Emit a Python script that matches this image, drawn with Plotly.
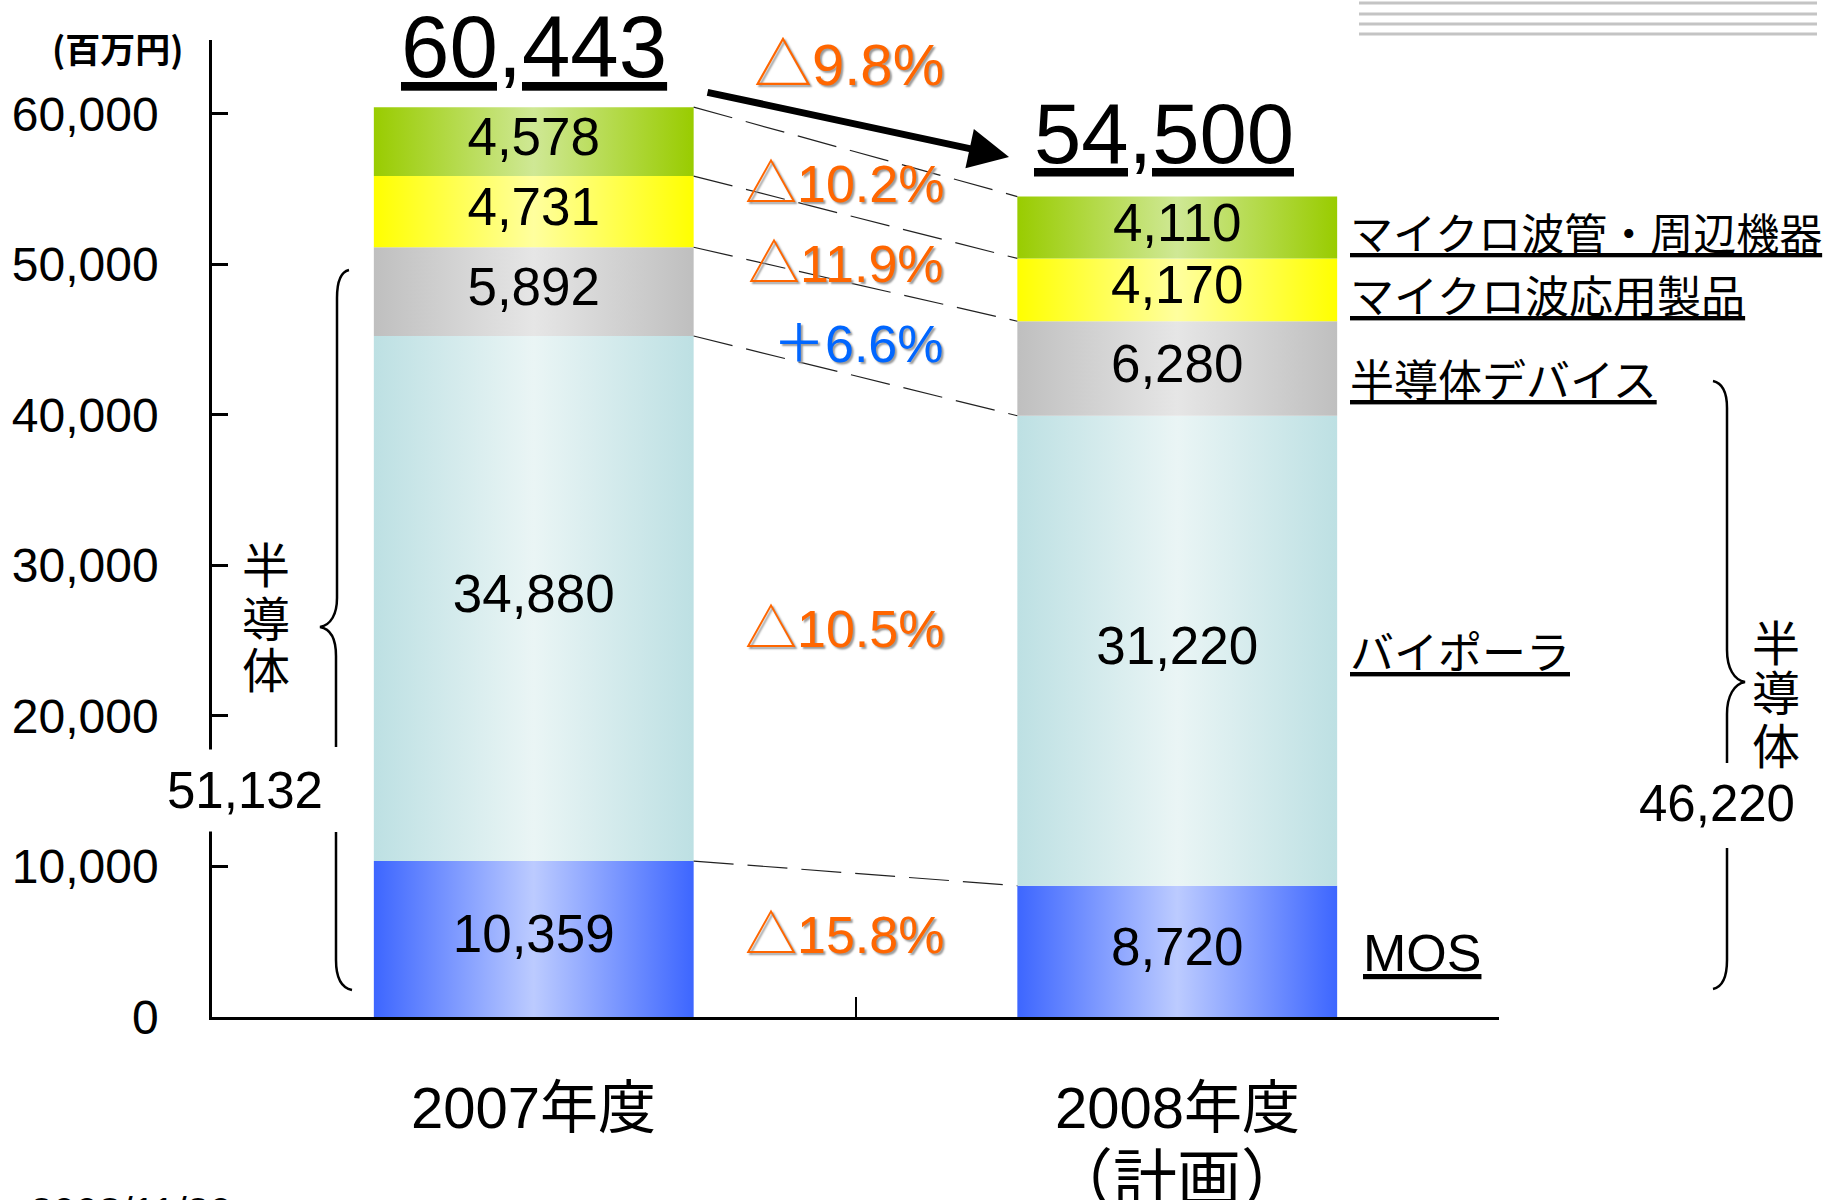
import plotly.graph_objects as go

# ---------------- data ----------------
categories = ["2007年度", "2008年度"]
category_notes = ["", "（計画）"]
segment_names = ["MOS", "バイポーラ", "半導体デバイス", "マイクロ波応用製品", "マイクロ波管・周辺機器"]
mos = [10359, 8720]
bipolar = [34880, 31220]
semi_devices = [5892, 6280]
mw_products = [4731, 4170]
mw_tubes = [4578, 4110]
totals = [60443, 54500]
semi_totals = [51132, 46220]
change_labels = ["△15.8%", "△10.5%", "＋6.6%", "△11.9%", "△10.2%"]
total_change_label = "△9.8%"
y_tickvals = [0, 10000, 20000, 30000, 40000, 50000, 60000]
unit_label = "(百万円)"
semi_group_label = "半導体"
date_label = "2008/11/20"
page_label = "9"

series = [mos, bipolar, semi_devices, mw_products, mw_tubes]

# ---------------- styles ----------------
W, H = 1827, 1200
L_PX, R_PX, T_PX, B_PX = 212, 1499, 40, 1017
XR = (-0.5, 1.5)
YR = (0, 64900)
BAR_W = 0.497

def xd(px):
    return XR[0] + (px - L_PX) / (R_PX - L_PX) * (XR[1] - XR[0])

def yd(py):
    return YR[0] + (B_PX - py) / (B_PX - T_PX) * (YR[1] - YR[0])

def xp(px):
    return (px - L_PX) / (R_PX - L_PX)

def yp(py):
    return (B_PX - py) / (B_PX - T_PX)

seg_colors = [
    ("#3D66FF", "#BCCBFF"),
    ("#BDE0E3", "#EAF5F5"),
    ("#BFBFBF", "#E6E6E6"),
    ("#FFFF00", "#FFFF9E"),
    ("#99CC00", "#CFE895"),
]
change_colors = ["#FF6600", "#FF6600", "#0066FF", "#FF6600", "#FF6600"]
change_yshift = [10, -4, -14, -13, 1]
right_label_yshift = [-2, 1, -10, -4, -3]

ARIAL = "Liberation Sans, Arial, Noto Sans CJK JP, sans-serif"
JP = "Noto Sans CJK JP, sans-serif"
SHADOW = "2px 2px 2px #9A9A9A"

fig = go.Figure()

# cumulative stacks
cum = [[0, 0]]
for s in series:
    cum.append([cum[-1][i] + s[i] for i in range(2)])

# bars (gradient-filled rectangles on data axes)
for k, s in enumerate(series):
    edge, mid = seg_colors[k]
    for i in range(len(categories)):
        x0, x1 = i - BAR_W / 2, i + BAR_W / 2
        y0, y1 = cum[k][i], cum[k + 1][i]
        fig.add_trace(go.Scatter(
            x=[x0, x1, x1, x0, x0], y=[y0, y0, y1, y1, y0],
            mode="lines", line=dict(width=0), fill="toself",
            fillgradient=dict(type="horizontal",
                              colorscale=[[0, edge], [0.5, mid], [1, edge]]),
            hoverinfo="skip", showlegend=False, name=segment_names[k]))

# value labels in bars
for k, s in enumerate(series):
    fig.add_trace(go.Scatter(
        x=list(range(len(categories))),
        y=[(cum[k][i] + cum[k + 1][i]) / 2 for i in range(len(categories))],
        mode="text", text=[f"{v:,}" for v in s],
        textfont=dict(family=ARIAL, size=53, color="black"),
        hoverinfo="skip", showlegend=False))

# dashed connectors
for k in range(1, len(cum)):
    fig.add_trace(go.Scatter(
        x=[BAR_W / 2, 1 - BAR_W / 2], y=[cum[k][0], cum[k][1]],
        mode="lines", line=dict(color="#222222", width=1.2, dash="40px,14px"),
        hoverinfo="skip", showlegend=False))

ann = []
# change labels
for k, lab in enumerate(change_labels):
    yv = (cum[k][0] + cum[k + 1][0] + cum[k][1] + cum[k + 1][1]) / 4
    ann.append(dict(x=xd(946), y=yv, xref="x", yref="y", xanchor="right", yanchor="middle",
                    yshift=change_yshift[k], text=lab, showarrow=False,
                    font=dict(family=ARIAL, size=52, color=change_colors[k], shadow=SHADOW)))
ann.append(dict(x=xd(946), y=yd(64), xref="x", yref="y", xanchor="right", yanchor="middle",
                text=total_change_label, showarrow=False,
                font=dict(family=ARIAL, size=58, color="#FF6600", shadow=SHADOW)))

# totals
ann.append(dict(x=0, y=yd(46), xref="x", yref="y", xanchor="center", yanchor="middle",
                text=f"<u>{totals[0]:,}</u>", showarrow=False,
                font=dict(family=ARIAL, size=87, color="black")))
ann.append(dict(x=xd(1164), y=yd(133), xref="x", yref="y", xanchor="center", yanchor="middle",
                text=f"<u>{totals[1]:,}</u>", showarrow=False,
                font=dict(family=ARIAL, size=85, color="black")))

# arrow
ann.append(dict(x=xd(1009), y=yd(157), ax=xd(706), ay=yd(92), xref="x", yref="y",
                axref="x", ayref="y", text="", showarrow=True, arrowhead=2,
                arrowsize=1.15, arrowwidth=7, arrowcolor="black"))

# right segment labels
for k, name in enumerate(segment_names):
    yv = (cum[k][1] + cum[k + 1][1]) / 2
    is_mos = (k == 0)
    size = 52 if is_mos else (43 if len(name) > 10 else 44)
    ann.append(dict(x=xd(1361 if is_mos else 1348), y=yv, xref="x", yref="y",
                    xanchor="left", yanchor="middle", yshift=right_label_yshift[k],
                    text=f"<u>{name}</u>", showarrow=False,
                    font=dict(family=ARIAL if is_mos else JP, size=size, color="black")))

# semiconductor group labels
for ch, py in zip(semi_group_label, [562, 616, 667]):
    ann.append(dict(x=xp(266), y=yp(py), xref="paper", yref="paper", xanchor="center",
                    yanchor="middle", text=ch, showarrow=False,
                    font=dict(family=JP, size=48, color="black")))
for ch, py in zip(semi_group_label, [640, 690, 743]):
    ann.append(dict(x=xp(1776), y=yp(py), xref="paper", yref="paper", xanchor="center",
                    yanchor="middle", text=ch, showarrow=False,
                    font=dict(family=JP, size=48, color="black")))
ann.append(dict(x=xp(245), y=yp(790), xref="paper", yref="paper", xanchor="center",
                yanchor="middle", text=f"{semi_totals[0]:,}", showarrow=False,
                bgcolor="white", borderpad=12,
                font=dict(family=ARIAL, size=51, color="black")))
ann.append(dict(x=xp(1717), y=yp(803), xref="paper", yref="paper", xanchor="center",
                yanchor="middle", text=f"{semi_totals[1]:,}", showarrow=False,
                font=dict(family=ARIAL, size=51, color="black")))

# category labels
for i, cat in enumerate(categories):
    ann.append(dict(x=i, y=yp(1107), xref="x", yref="paper", xanchor="center",
                    yanchor="middle", text=cat, showarrow=False,
                    font=dict(family=ARIAL, size=58, color="black")))
    if category_notes[i]:
        ann.append(dict(x=i, y=yp(1174), xref="x", yref="paper", xanchor="center",
                        yanchor="middle", text=category_notes[i], showarrow=False,
                        font=dict(family=JP, size=64, color="black")))

# unit label, date, page
ann.append(dict(x=xp(117), y=yp(47), xref="paper", yref="paper", xanchor="center",
                yanchor="middle", text=f"<b>{unit_label}</b>", showarrow=False,
                font=dict(family=JP, size=35, color="black")))
ann.append(dict(x=xp(28), y=yp(1187), xref="paper", yref="paper", xanchor="left",
                yanchor="top", text=date_label, showarrow=False,
                font=dict(family=ARIAL, size=41, color="black")))
ann.append(dict(x=xp(1782), y=yp(1189), xref="paper", yref="paper", xanchor="left",
                yanchor="top", text=page_label, showarrow=False,
                font=dict(family=ARIAL, size=41, color="black")))

# braces (paper coordinates so they are not clipped)
def path_from(cmds):
    out = []
    for c in cmds:
        if isinstance(c, str):
            out.append(c)
        else:
            out.append(f"{xp(c[0]):.5f},{yp(c[1]):.5f}")
    return " ".join(out)

left_brace = path_from([
    "M", (349, 270), "C", (340, 272), (337, 282), (337, 298), "L", (337, 598),
    "C", (337, 614), (331, 625), (320, 627), "C", (331, 629), (336, 640), (336, 656),
    "L", (336, 747),
    "M", (336, 832), "L", (336, 960), "C", (336, 978), (342, 988), (352, 990)])
right_brace = path_from([
    "M", (1713, 381), "C", (1722, 383), (1727, 392), (1727, 408), "L", (1727, 650),
    "C", (1727, 668), (1734, 680), (1745, 682), "C", (1734, 684), (1727, 696), (1727, 714),
    "L", (1727, 763),
    "M", (1727, 848), "L", (1727, 960), "C", (1727, 978), (1722, 987), (1713, 989)])

shapes = [
    dict(type="path", path=left_brace, xref="paper", yref="paper",
         line=dict(color="black", width=2.5), layer="above"),
    dict(type="path", path=right_brace, xref="paper", yref="paper",
         line=dict(color="black", width=2.5), layer="above"),
]
for py in [3, 14, 24, 34]:
    shapes.append(dict(type="line", xref="paper", yref="paper",
                       x0=xp(1359), x1=xp(1817), y0=yp(py), y1=yp(py),
                       line=dict(color="#C4C4C4", width=3)))

fig.update_layout(
    template="none",
    width=W, height=H,
    margin=dict(l=L_PX, r=W - R_PX, t=T_PX, b=H - B_PX, pad=0, autoexpand=False),
    paper_bgcolor="white", plot_bgcolor="white",
    showlegend=False,
    annotations=ann, shapes=shapes,
    xaxis=dict(range=list(XR), showgrid=False, zeroline=False, showline=True,
               linecolor="black", linewidth=3, ticks="inside", ticklen=20,
               tickwidth=2, tickcolor="black", tickvals=[0.5, 1.5],
               showticklabels=False, fixedrange=True, automargin=False),
    yaxis=dict(range=list(YR), showgrid=False, zeroline=False, showline=True,
               linecolor="black", linewidth=2.5, ticks="inside", ticklen=16,
               tickwidth=2.5, tickcolor="black", tickvals=y_tickvals,
               tickformat=",d", ticklabelstandoff=41,
               tickfont=dict(family=ARIAL, size=48, color="black"),
               fixedrange=True, automargin=False),
)

fig.write_html("out.html", config={"displayModeBar": False},
               post_script="document.body.style.margin='0px';document.body.style.overflow='hidden';")
